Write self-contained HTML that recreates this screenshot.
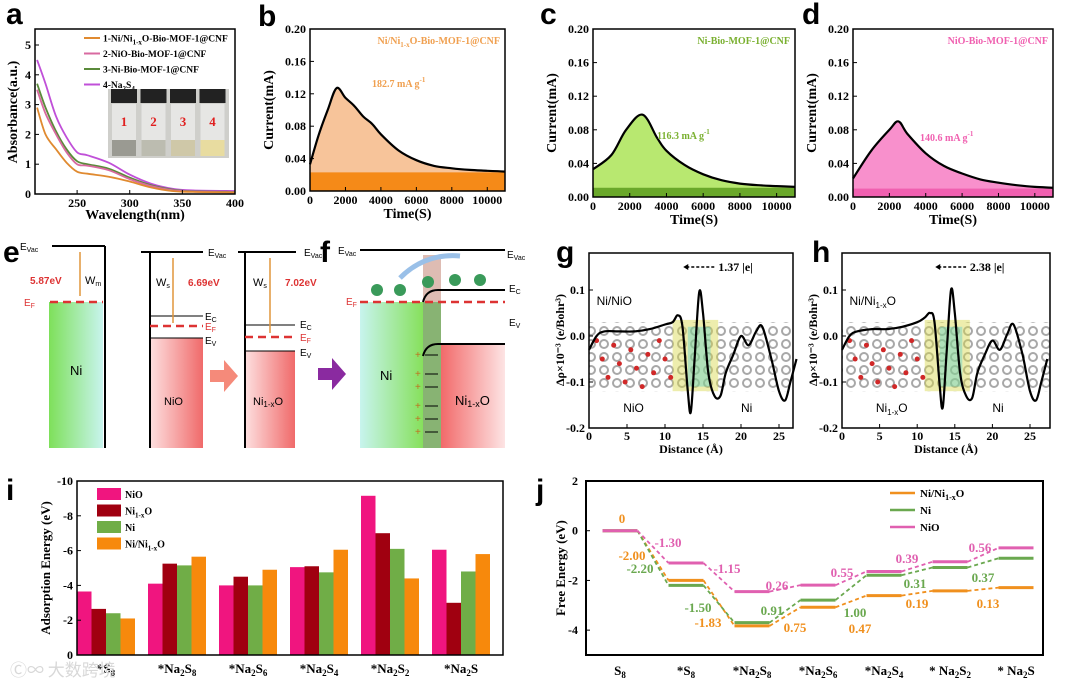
<!DOCTYPE html>
<html><head><meta charset="utf-8"><style>
body{margin:0;background:#fff;}
svg{display:block;font-family:"Liberation Serif",serif;font-weight:bold;}
.s{font-family:"Liberation Sans",sans-serif;}
</style></head><body>
<svg id="fig" width="1080" height="685" viewBox="0 0 1080 685">
<defs>
<linearGradient id="gNi" x1="0" x2="1"><stop offset="0" stop-color="#7ee05a"/><stop offset="1" stop-color="#c8f4ee"/></linearGradient>
<linearGradient id="gNi2" x1="0" x2="1"><stop offset="0" stop-color="#c8f4ee"/><stop offset="1" stop-color="#86e05c"/></linearGradient>
<linearGradient id="gO" x1="0" x2="1"><stop offset="0" stop-color="#fde0e0"/><stop offset="1" stop-color="#f06a6a"/></linearGradient>
<linearGradient id="gO2" x1="0" x2="1"><stop offset="0" stop-color="#f26a6a"/><stop offset="1" stop-color="#fde4e4"/></linearGradient>
<pattern id="atoms" width="13" height="13" patternUnits="userSpaceOnUse"><circle cx="6" cy="6" r="4" fill="none" stroke="#a8a8a8" stroke-width="2"/></pattern>
</defs>

<g class="s" font-size="30" font-weight="bold">
<text x="6" y="24">a</text>
<text x="258" y="26">b</text>
<text x="540" y="24">c</text>
<text x="802" y="24">d</text>
<text x="3" y="262">e</text>
<text x="320" y="262">f</text>
<text x="556" y="262">g</text>
<text x="812" y="262">h</text>
<text x="6" y="500">i</text>
<text x="536" y="500">j</text>
</g>

<g id="pa"></g>
<g id="pb"></g>
<g id="pc"></g>
<g id="pd"></g>

<g font-size="11">
<g class="s" font-weight="normal">
<rect x="49" y="302" width="54" height="146" fill="url(#gNi)"/>
<line x1="52" y1="246" x2="105" y2="246" stroke="#000" stroke-width="2"/>
<line x1="105" y1="246" x2="105" y2="448" stroke="#000" stroke-width="2"/>
<text x="20" y="250" font-size="10">E<tspan font-size="7" dy="2">Vac</tspan></text>
<line x1="50" y1="302" x2="103" y2="302" stroke="#d33" stroke-width="2.5" stroke-dasharray="8,5"/>
<text x="24" y="306" fill="#d33" font-size="10">E<tspan font-size="7" dy="2">F</tspan></text>
<line x1="80" y1="252" x2="80" y2="296" stroke="#e0953a" stroke-width="1.5"/>
<text x="30" y="284" fill="#d33" font-size="10" font-weight="bold">5.87eV</text>
<text x="85" y="284" font-size="11">W<tspan font-size="7" dy="2">m</tspan></text>
<text x="70" y="375" font-size="13">Ni</text>

<rect x="150" y="338" width="53" height="110" fill="url(#gO)"/>
<line x1="141" y1="252" x2="203" y2="252" stroke="#000" stroke-width="2"/>
<line x1="150" y1="252" x2="150" y2="448" stroke="#000" stroke-width="2"/>
<text x="208" y="256" font-size="10">E<tspan font-size="7" dy="2">Vac</tspan></text>
<line x1="150" y1="316" x2="203" y2="316" stroke="#000"/>
<text x="205" y="320" font-size="10">E<tspan font-size="7" dy="2">C</tspan></text>
<line x1="150" y1="326" x2="203" y2="326" stroke="#d33" stroke-width="2.5" stroke-dasharray="8,5"/>
<text x="205" y="330" fill="#d33" font-size="10">E<tspan font-size="7" dy="2">F</tspan></text>
<line x1="150" y1="338" x2="203" y2="338" stroke="#000"/>
<text x="205" y="344" font-size="10">E<tspan font-size="7" dy="2">V</tspan></text>
<line x1="173" y1="258" x2="173" y2="323" stroke="#e0953a" stroke-width="1.5"/>
<text x="156" y="286" font-size="11">W<tspan font-size="7" dy="2">s</tspan></text>
<text x="188" y="286" fill="#d33" font-size="10" font-weight="bold">6.69eV</text>
<text x="164" y="405" font-size="11">NiO</text>
<path d="M210 370 h14 v-10 l14 16 l-14 16 v-10 h-14z" fill="#f58a7a"/>

<rect x="245" y="351" width="50" height="97" fill="url(#gO)"/>
<line x1="238" y1="252" x2="296" y2="252" stroke="#000" stroke-width="2"/>
<line x1="245" y1="252" x2="245" y2="448" stroke="#000" stroke-width="2"/>
<text x="304" y="256" font-size="10">E<tspan font-size="7" dy="2">Vac</tspan></text>
<line x1="245" y1="325" x2="295" y2="325" stroke="#000"/>
<text x="300" y="328" font-size="10">E<tspan font-size="7" dy="2">C</tspan></text>
<line x1="245" y1="337" x2="295" y2="337" stroke="#d33" stroke-width="2.5" stroke-dasharray="8,5"/>
<text x="300" y="341" fill="#d33" font-size="10">E<tspan font-size="7" dy="2">F</tspan></text>
<line x1="245" y1="351" x2="295" y2="351" stroke="#000"/>
<text x="300" y="356" font-size="10">E<tspan font-size="7" dy="2">V</tspan></text>
<line x1="270" y1="258" x2="270" y2="333" stroke="#e0953a" stroke-width="1.5"/>
<text x="253" y="286" font-size="11">W<tspan font-size="7" dy="2">s</tspan></text>
<text x="285" y="286" fill="#d33" font-size="10" font-weight="bold">7.02eV</text>
<text x="253" y="405" font-size="11">Ni<tspan font-size="8" dy="2">1-x</tspan><tspan dy="-2">O</tspan></text>
<path d="M318 368 h14 v-10 l14 16 l-14 16 v-10 h-14z" fill="#8a2aa0"/>
</g>
</g>

<g class="s" font-weight="normal">
<rect x="360" y="302" width="63" height="146" fill="url(#gNi2)"/>
<rect x="423" y="302" width="18" height="146" fill="#6aa050" opacity="0.8"/>
<rect x="441" y="345" width="64" height="103" fill="url(#gO2)"/>
<rect x="423" y="255" width="18" height="47" fill="#c89080" opacity="0.6"/>
<line x1="360" y1="250" x2="505" y2="250" stroke="#000" stroke-width="2"/>
<text x="338" y="254" font-size="10">E<tspan font-size="7" dy="2">Vac</tspan></text>
<text x="507" y="258" font-size="10">E<tspan font-size="7" dy="2">Vac</tspan></text>
<line x1="360" y1="302" x2="505" y2="302" stroke="#d33" stroke-width="2.5" stroke-dasharray="8,5"/>
<text x="346" y="305" fill="#d33" font-size="10">E<tspan font-size="7" dy="2">F</tspan></text>
<path d="M423 302 q3 -12 15 -12 H505" fill="none" stroke="#000" stroke-width="2"/>
<text x="509" y="292" font-size="10">E<tspan font-size="7" dy="2">C</tspan></text>
<text x="509" y="326" font-size="10">E<tspan font-size="7" dy="2">V</tspan></text>
<path d="M423 356 q3 -12 15 -12 H505" fill="none" stroke="#000" stroke-width="2"/>
<path d="M400 278 q25 -25 60 -22" fill="none" stroke="#9ac0e8" stroke-width="5"/>
<g fill="#3a9a5a"><circle cx="377" cy="290" r="6"/><circle cx="400" cy="290" r="6"/><circle cx="428" cy="282" r="6"/><circle cx="455" cy="280" r="6"/><circle cx="480" cy="280" r="6"/></g>
<text x="380" y="380" font-size="13">Ni</text>
<text x="455" y="405" font-size="13">Ni<tspan font-size="9" dy="2">1-x</tspan><tspan dy="-2">O</tspan></text>
<g fill="#c07020" font-size="10"><text x="415" y="358">+</text><text x="415" y="377">+</text><text x="415" y="390">+</text><text x="415" y="409">+</text><text x="415" y="422">+</text><text x="415" y="435">+</text></g>
<g stroke="#000"><line x1="425" y1="355" x2="438" y2="355"/><line x1="425" y1="374" x2="438" y2="374"/><line x1="425" y1="387" x2="438" y2="387"/><line x1="425" y1="406" x2="438" y2="406"/><line x1="425" y1="419" x2="438" y2="419"/><line x1="425" y1="432" x2="438" y2="432"/></g>
</g>

<g id="pg"></g>
<g id="ph"></g>
<g id="pi"></g>
<g id="pj"></g>
</svg>

<script>
const aWave = [212,220,230,240,250,260,280,300,320,340,360,400];
const aNa2S4 = [4.5,3.7,2.6,1.9,1.4,1.3,1.05,0.65,0.35,0.18,0.12,0.1];
const aNiBio = [3.7,2.9,2.1,1.5,1.1,1.0,0.85,0.55,0.3,0.15,0.09,0.07];
const aNiOBio = [3.5,2.7,2.0,1.4,1.0,0.95,0.8,0.5,0.27,0.13,0.08,0.06];
const aNiNiO = [2.9,2.0,1.5,1.05,0.75,0.68,0.58,0.42,0.22,0.1,0.07,0.05];

const bTime = [0,500,1000,1500,2000,2500,3000,3500,4000,5000,6000,7000,8000,9000,10000,11000];
const bCurr = [0.033,0.07,0.1,0.127,0.115,0.105,0.092,0.083,0.07,0.05,0.038,0.031,0.028,0.026,0.025,0.024];
const cTime = [0,1000,1800,2700,3500,4000,5000,6000,7000,8000,9000,10000,11000];
const cCurr = [0.033,0.05,0.08,0.098,0.07,0.055,0.038,0.027,0.02,0.016,0.014,0.013,0.012];
const dTime = [0,1000,2000,2500,3000,4000,5000,6000,7000,8000,9000,10000,11000];
const dCurr = [0.022,0.055,0.08,0.09,0.075,0.052,0.037,0.028,0.021,0.017,0.014,0.012,0.011];
const currTicks = [0,0.04,0.08,0.12,0.16,0.2];
const timeTicks = [0,2000,4000,6000,8000,10000];

const gDist = [0,1,2,4,6,8,10,11,11.7,12.3,13,13.4,13.9,14.5,15,15.7,16.5,17.3,18,19,20,21,22,22.8,24,25,25.8,26.5,27.3];
const gRho = [-0.03,0,0.01,0.01,0.01,0.015,0.025,0.03,0.045,0.02,-0.12,-0.165,-0.05,0.095,0.05,-0.08,-0.13,-0.13,-0.08,-0.04,0,-0.02,0.01,0.02,-0.05,-0.12,-0.14,-0.1,-0.05];
const hRho = [-0.03,0,0.01,0.015,0.015,0.02,0.03,0.04,0.05,0.03,-0.11,-0.155,-0.04,0.1,0.05,-0.08,-0.13,-0.135,-0.08,-0.04,-0.01,-0.03,0.005,0.025,-0.04,-0.12,-0.14,-0.1,-0.05];

const iCats = ['*S8','*Na2S8','*Na2S6','*Na2S4','*Na2S2','*Na2S'];
const iNiO = [-3.65,-4.1,-4.0,-5.05,-9.15,-6.05];
const iNi1xO = [-2.65,-5.25,-4.5,-5.1,-7.0,-3.0];
const iNi = [-2.4,-5.15,-4.0,-4.75,-6.1,-4.8];
const iNiNi1xO = [-2.1,-5.65,-4.9,-6.05,-4.4,-5.8];
const iTicks = [0,-2,-4,-6,-8,-10];

const jCats = ['S8','*S8','*Na2S8','*Na2S6','*Na2S4','* Na2S2','* Na2S'];
const jNiNi1xO = [0,-2.0,-3.83,-3.08,-2.61,-2.42,-2.29];
const jNi = [0,-2.2,-3.7,-2.79,-1.79,-1.48,-1.11];
const jNiO = [0,-1.3,-2.45,-2.19,-1.64,-1.25,-0.69];
const jTicks = [2,0,-2,-4];

const NS='http://www.w3.org/2000/svg';
function mk(parent,tag,attrs,txt){const e=document.createElementNS(NS,tag);for(const k in attrs)e.setAttribute(k,attrs[k]);if(txt!==undefined)e.textContent=txt;parent.appendChild(e);return e;}
// parts: [text, mode] mode 0 normal, 1 subscript, 2 superscript
function sub(parent,x,y,parts,attrs){
  const t=mk(parent,'text',Object.assign({x:x,y:y},attrs));
  let cur=0;
  parts.forEach(p=>{const off=p[1]===1?3:(p[1]===2?-5:0);const s=mk(t,'tspan',{dy:off-cur});cur=off;if(p[1])s.setAttribute('font-size',Math.round((attrs['font-size']||12)*0.7));s.textContent=p[0];});
  return t;
}
function chemParts(s){const out=[];s.replace(/([^0-9]+)|([0-9]+)/g,(m,a,b)=>{out.push([m,b?1:0]);});return out;}
function linear(d0,d1,r0,r1){return v=>r0+(v-d0)/(d1-d0)*(r1-r0);}
function smooth(pts){ // Catmull-Rom to Bezier
  let d='M'+pts[0][0].toFixed(1)+','+pts[0][1].toFixed(1);
  for(let i=0;i<pts.length-1;i++){
    const p0=pts[i-1]||pts[i],p1=pts[i],p2=pts[i+1],p3=pts[i+2]||p2;
    const c1=[p1[0]+(p2[0]-p0[0])/6,p1[1]+(p2[1]-p0[1])/6],c2=[p2[0]-(p3[0]-p1[0])/6,p2[1]-(p3[1]-p1[1])/6];
    d+='C'+c1[0].toFixed(1)+','+c1[1].toFixed(1)+' '+c2[0].toFixed(1)+','+c2[1].toFixed(1)+' '+p2[0].toFixed(1)+','+p2[1].toFixed(1);
  }
  return d;
}

(function(){
  const g=document.getElementById('pa');
  const X=linear(210,400,35,235), Y=linear(0,5,194,45);
  const series=[[aNa2S4,'#c050d8'],[aNiBio,'#5a8a3a'],[aNiOBio,'#d86aa0'],[aNiNiO,'#e08a30']];
  series.forEach((s,k)=>{
    const p=mk(g,'path',{d:smooth(aWave.map((w,i)=>[X(w),Y(s[0][i])])),fill:'none',stroke:s[1],'stroke-width':1.8});
    
    
  });
  mk(g,'rect',{x:35,y:29,width:200,height:165,fill:'none',stroke:'#000','stroke-width':1.5});
  [0,1,2,3,4,5].forEach(v=>{mk(g,'line',{x1:35,x2:39,y1:Y(v),y2:Y(v),stroke:'#000'});mk(g,'text',{x:31,y:Y(v)+4,'text-anchor':'end','font-size':12},v);});
  [250,300,350,400].forEach(v=>{mk(g,'line',{x1:X(v),x2:X(v),y1:194,y2:190,stroke:'#000'});mk(g,'text',{x:X(v),y:207,'text-anchor':'middle','font-size':12},v);});
  const yt=mk(g,'text',{x:0,y:0,'text-anchor':'middle','font-size':14,transform:'translate(17,112) rotate(-90)'},'Absorbance(a.u.)');
  
  
  const xt=mk(g,'text',{x:135,y:219,'text-anchor':'middle','font-size':14},'Wavelength(nm)');
  
  
  const leg=[['#e08a30',[['1-Ni/Ni',0],['1-x',1],['O-Bio-MOF-1@CNF',0]]],['#d86aa0',[['2-NiO-Bio-MOF-1@CNF',0]]],['#5a8a3a',[['3-Ni-Bio-MOF-1@CNF',0]]],['#c050d8',[['4-Na',0],['2',1],['S',0],['4',1]]]];
  leg.forEach((l,i)=>{const y=38+i*15.5;mk(g,'line',{x1:84,x2:100,y1:y,y2:y,stroke:l[0],'stroke-width':2});sub(g,103,y+3.5,l[1],{'font-size':9.5});});
  mk(g,'rect',{x:108,y:89,width:121,height:69,fill:'#cfcfcb'});
  const liq=['#9a9a92','#bcbcb0','#cfc8a8','#e8dca0'];
  for(let k=0;k<4;k++){const vx=111+k*29.5;
    mk(g,'rect',{x:vx,y:89,width:26,height:14,fill:'#222'});
    mk(g,'rect',{x:vx+1,y:104,width:24,height:52,fill:'#e6e6e4'});
    mk(g,'rect',{x:vx+1,y:140,width:24,height:16,fill:liq[k]});
    mk(g,'text',{x:vx+13,y:126,'text-anchor':'middle','font-size':13,fill:'#e02020'},k+1);
  }
})();

function currentPanel(id,box,times,vals,band,light,dark,label,lx,lcol,anno,ax,ay){
  const g=document.getElementById(id);
  const X=linear(0,11000,box[0],box[2]), Y=linear(0,0.2,box[3],box[1]);
  const pts=times.map((t,i)=>[X(t),Y(vals[i])]);
  const curve=smooth(pts);
  const area=mk(g,'path',{d:curve+'L'+X(11000)+','+Y(0)+'L'+X(0)+','+Y(0)+'Z',fill:light});
  
  
  mk(g,'rect',{x:box[0],y:Y(band),width:box[2]-box[0],height:Y(0)-Y(band),fill:dark});
  const ln=mk(g,'path',{d:curve,fill:'none',stroke:'#000','stroke-width':2.2});
  
  
  mk(g,'rect',{x:box[0],y:box[1],width:box[2]-box[0],height:box[3]-box[1],fill:'none',stroke:'#000','stroke-width':1.5});
  currTicks.forEach(v=>{mk(g,'line',{x1:box[0],x2:box[0]+4,y1:Y(v),y2:Y(v),stroke:'#000'});mk(g,'text',{x:box[0]-4,y:Y(v)+4,'text-anchor':'end','font-size':12},v.toFixed(2));});
  timeTicks.forEach(v=>{mk(g,'line',{x1:X(v),x2:X(v),y1:box[3],y2:box[3]-4,stroke:'#000'});mk(g,'text',{x:X(v),y:box[3]+13,'text-anchor':'middle','font-size':12},v);});
  const yt=mk(g,'text',{x:0,y:0,'text-anchor':'middle','font-size':14,transform:'translate('+(box[0]-37)+','+((box[1]+box[3])/2)+') rotate(-90)'},'Current(mA)');
  
  
  const xt=mk(g,'text',{x:(box[0]+box[2])/2,y:box[3]+27,'text-anchor':'middle','font-size':14},'Time(S)');
  
  
  sub(g,lx,box[1]+15,label,{'font-size':10,fill:lcol,'text-anchor':'end'});
  sub(g,ax,ay,anno,{'font-size':10,fill:lcol});
}
currentPanel('pb',[310,29,505,191],bTime,bCurr,0.023,'#f7c49a','#f58a18',[['Ni/Ni',0],['1-x',1],['O-Bio-MOF-1@CNF',0]],500,'#f0a050',[['182.7 mA g',0],['-1',2]],372,87);
currentPanel('pc',[593,29,795,197],cTime,cCurr,0.011,'#b8e870','#6aa82a',[['Ni-Bio-MOF-1@CNF',0]],790,'#7ab030',[['116.3 mA g',0],['-1',2]],657,139);
currentPanel('pd',[853,29,1053,197],dTime,dCurr,0.01,'#f890cc','#f060b0',[['NiO-Bio-MOF-1@CNF',0]],1048,'#f060b0',[['140.6 mA g',0],['-1',2]],920,141);

function rhoPanel(id,box,x25,rho,label,arrowLbl,leftLbl){
  const g=document.getElementById(id);
  const X=linear(0,25,box[0],x25), Y=linear(-0.2,0.1,box[3],290);
  mk(g,'rect',{x:X(0),y:Y(0.03),width:box[2]-X(0),height:Y(-0.12)-Y(0.03),fill:'url(#atoms)'});
  mk(g,'rect',{x:X(11),y:Y(0.035),width:X(17)-X(11),height:Y(-0.12)-Y(0.035),fill:'#d8d84a',opacity:0.45});
  mk(g,'rect',{x:X(13),y:Y(0.02),width:X(16)-X(13),height:Y(-0.11)-Y(0.02),fill:'#40c8d0',opacity:0.35});
  for(let k=0;k<14;k++){mk(g,'circle',{cx:X(1+k*0.75),cy:Y(-0.01-((k*37)%11)/100),r:2.5,fill:'#d02828'});}
  const ln=mk(g,'path',{d:smooth(gDist.map((d,i)=>[X(d),Y(rho[i])])),fill:'none',stroke:'#000','stroke-width':2.2,'stroke-linejoin':'round'});
  
  
  mk(g,'rect',{x:box[0],y:box[1],width:box[2]-box[0],height:box[3]-box[1],fill:'none',stroke:'#000','stroke-width':1.5});
  [0.1,0,-0.1,-0.2].forEach(v=>{mk(g,'line',{x1:box[0],x2:box[0]+4,y1:Y(v),y2:Y(v),stroke:'#000'});mk(g,'text',{x:box[0]-4,y:Y(v)+4,'text-anchor':'end','font-size':12},v.toFixed(1));});
  [0,5,10,15,20,25].forEach(v=>{mk(g,'line',{x1:X(v),x2:X(v),y1:box[3],y2:box[3]-4,stroke:'#000'});mk(g,'text',{x:X(v),y:box[3]+12,'text-anchor':'middle','font-size':12},v);});
  const yt=mk(g,'text',{x:0,y:0,'text-anchor':'middle','font-size':12,transform:'translate('+(box[0]-25)+',340) rotate(-90)'},'\u0394\u03c1\u00d710\u207b\u00b3 (e/Bohr\u00b3)');
  
  
  const xt=mk(g,'text',{x:(box[0]+box[2])/2,y:box[3]+25,'text-anchor':'middle','font-size':12},'Distance (\u00c5)');
  
  
  mk(g,'line',{x1:X(12.8),x2:X(16.5),y1:267,y2:267,stroke:'#000','stroke-dasharray':'3,2','stroke-width':1.5});
  mk(g,'path',{d:'M'+X(12.4)+',267 l5,-3 v6z',fill:'#000'});
  mk(g,'text',{x:X(17),y:271,'font-size':12},arrowLbl);
  sub(g,X(1),305,label,{'font-size':12,'font-family':'Liberation Sans','font-weight':'normal'});
  sub(g,X(4.5),412,leftLbl,{'font-size':12,'font-family':'Liberation Sans','font-weight':'normal'});
  mk(g,'text',{x:X(20),y:412,'font-size':12,'font-family':'Liberation Sans','font-weight':'normal'},'Ni');
}
rhoPanel('pg',[589,253,793,428],779,gRho,[['Ni/NiO',0]],'1.37 |e|',[['NiO',0]]);
rhoPanel('ph',[842,253,1050,428],1030,hRho,[['Ni/Ni',0],['1-x',1],['O',0]],'2.38 |e|',[['Ni',0],['1-x',1],['O',0]]);

(function(){
  const g=document.getElementById('pi');
  const L=77,R=503,T=481,B=655;
  const Y=linear(0,-10,B,T);
  const pitch=(R-L)/6, bw=14.5;
  const ser=[[iNiO,'#f0157f','NiO'],[iNi1xO,'#a00010','Ni1-xO'],[iNi,'#70ad47','Ni'],[iNiNi1xO,'#f7890c','Ni/Ni1-xO']];
  ser.forEach((s,k)=>{
    s[0].forEach((v,i)=>{
      const x=L+i*pitch+k*bw;
      const r=mk(g,'rect',{x:x,y:Y(v),width:bw,height:B-Y(v),fill:s[1]});
      
      
    });
  });
  mk(g,'rect',{x:L,y:T,width:R-L,height:B-T,fill:'none',stroke:'#000','stroke-width':1.5});
  iTicks.forEach(v=>{mk(g,'line',{x1:L,x2:L+4,y1:Y(v),y2:Y(v),stroke:'#000'});mk(g,'text',{x:L-4,y:Y(v)+4,'text-anchor':'end','font-size':12},v);});
  iCats.forEach((c,i)=>{sub(g,L+i*pitch+29,B+18,chemParts(c),{'font-size':13,'text-anchor':'middle'});});
  const yt=mk(g,'text',{x:0,y:0,'text-anchor':'middle','font-size':13,transform:'translate(50,568) rotate(-90)'},'Adsorption Energy (eV)');
  
  
  const legs=[['#f0157f',[['NiO',0]]],['#a00010',[['Ni',0],['1-x',1],['O',0]]],['#70ad47',[['Ni',0]]],['#f7890c',[['Ni/Ni',0],['1-x',1],['O',0]]]];
  legs.forEach((l,i)=>{const y=488+i*16.5;mk(g,'rect',{x:97,y:y,width:24,height:12,fill:l[0]});sub(g,125,y+10,l[1],{'font-size':10});});
  mk(g,'text',{x:10,y:676,'font-size':17,fill:'#d8d8d8','font-family':'Noto Sans CJK SC, sans-serif','font-weight':'normal'},'\u24b8\u221e 大数跨境');
})();

(function(){
  const g=document.getElementById('pj');
  const L=586,R=1043,T=481,B=655;
  const Y=linear(2,-5,T,B);
  const cx=i=>620+i*66, hw=17.5;
  const ser=[[jNiNi1xO,'#f0901e','ni-ni1-xo'],[jNi,'#6aa84f','ni'],[jNiO,'#e060b0','nio']];
  ser.forEach(s=>{
    s[0].forEach((v,i)=>{
      if(i>0){mk(g,'path',{d:'M'+(cx(i-1)+hw)+','+Y(s[0][i-1])+'L'+(cx(i)-hw)+','+Y(v),stroke:s[1],'stroke-width':1.8,'stroke-dasharray':'4,3',fill:'none'});}
      const l=mk(g,'line',{x1:cx(i)-hw,x2:cx(i)+hw,y1:Y(v),y2:Y(v),stroke:s[1],'stroke-width':3});
      
      
    });
  });
  mk(g,'rect',{x:L,y:T,width:R-L,height:B-T,fill:'none',stroke:'#000','stroke-width':2});
  jTicks.forEach(v=>{mk(g,'line',{x1:L,x2:L+4,y1:Y(v),y2:Y(v),stroke:'#000'});mk(g,'text',{x:L-8,y:Y(v)+4,'text-anchor':'end','font-size':12},v);});
  jCats.forEach((c,i)=>{sub(g,cx(i),B+20,chemParts(c),{'font-size':13,'text-anchor':'middle'});});
  const yt=mk(g,'text',{x:0,y:0,'text-anchor':'middle','font-size':13,transform:'translate(565,568) rotate(-90)'},'Free Energy (eV)');
  
  
  const labs=[['0',622,518,'#f0901e'],['-1.30',668,542,'#e060b0'],['-2.00',632,555,'#f0901e'],['-2.20',640,568,'#6aa84f'],['-1.15',727,568,'#e060b0'],['-1.50',698,607,'#6aa84f'],['-1.83',708,622,'#f0901e'],['0.26',777,585,'#e060b0'],['0.91',772,610,'#6aa84f'],['0.75',795,627,'#f0901e'],['0.55',842,572,'#e060b0'],['1.00',855,612,'#6aa84f'],['0.47',860,628,'#f0901e'],['0.39',907,558,'#e060b0'],['0.31',915,583,'#6aa84f'],['0.19',917,603,'#f0901e'],['0.56',980,547,'#e060b0'],['0.37',983,577,'#6aa84f'],['0.13',988,603,'#f0901e']];
  labs.forEach(l=>{mk(g,'text',{x:l[1],y:l[2]+5,'text-anchor':'middle','font-size':13,fill:l[3]},l[0]);});
  const legs=[['#f0901e',[['Ni/Ni',0],['1-x',1],['O',0]]],['#6aa84f',[['Ni',0]]],['#e060b0',[['NiO',0]]]];
  legs.forEach((l,i)=>{const y=493+i*17;mk(g,'line',{x1:890,x2:915,y1:y,y2:y,stroke:l[0],'stroke-width':2.5});sub(g,920,y+4,l[1],{'font-size':11});});
})();
</script>
</body></html>
